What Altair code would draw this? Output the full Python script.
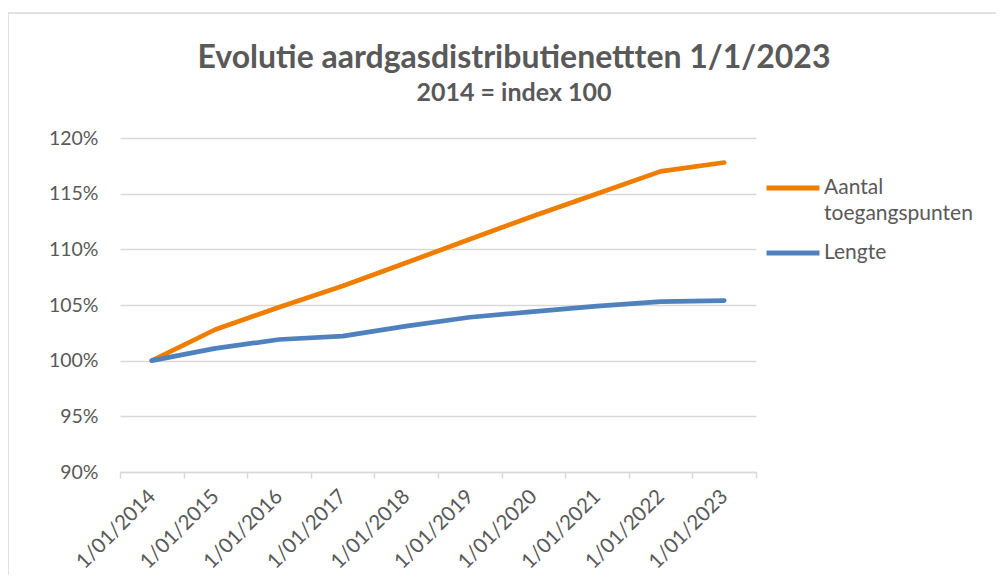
import altair as alt
import pandas as pd

# ---- data ----
dates = ["1/01/2014", "1/01/2015", "1/01/2016", "1/01/2017", "1/01/2018",
         "1/01/2019", "1/01/2020", "1/01/2021", "1/01/2022", "1/01/2023"]
aantal = [100.0, 102.8, 104.8, 106.7, 108.8, 110.9, 113.0, 115.0, 117.0, 117.8]
lengte = [100.0, 101.1, 101.9, 102.2, 103.1, 103.9, 104.4, 104.9, 105.3, 105.4]
series = ["Aantal toegangspunten", "Lengte"]
colors = ["#EF7D00", "#4F81BD"]
y_ticks = [90, 95, 100, 105, 110, 115, 120]

rows = []
for name, vals in zip(series, [aantal, lengte]):
    for d, v in zip(dates, vals):
        rows.append({"datum": d, "reeks": name, "waarde": v / 100.0})
df = pd.DataFrame(rows)

FONT = "Lato"
TXT = "#595959"
GRID = "#D9D9D9"

frame = alt.Chart(pd.DataFrame({"k": [0]})).mark_rect(
    filled=False, color=GRID, strokeWidth=1.5
).encode(
    x=alt.value(-112), x2=alt.value(950),
    y=alt.value(-125), y2=alt.value(600)
)

lines = alt.Chart(df).mark_line(strokeWidth=4.7, strokeCap="round", strokeJoin="round").encode(
    x=alt.X("datum:N", sort=dates, bandPosition=0.5,
            scale=alt.Scale(type="band", paddingInner=0, paddingOuter=0),
            axis=alt.Axis(title=None, tickBand="extent", grid=False,
                          domainColor=GRID, domainWidth=1.5,
                          tickColor=GRID, tickWidth=1.5, tickSize=6,
                          labelAngle=315, labelAlign="right", labelBaseline="middle",
                          labelPadding=15, labelFont=FONT, labelFontSize=20.5,
                          labelColor=TXT)),
    y=alt.Y("waarde:Q",
            scale=alt.Scale(domain=[0.90, 1.20], nice=False, zero=False),
            axis=alt.Axis(title=None, values=[t / 100.0 for t in y_ticks], format=".0%",
                          domain=False, ticks=False, grid=True,
                          gridColor=GRID, gridWidth=1.3,
                          labelPadding=22, labelFont=FONT, labelFontSize=19.5,
                          labelColor=TXT)),
    color=alt.Color("reeks:N", sort=series,
                    scale=alt.Scale(domain=series, range=colors),
                    legend=alt.Legend(title=None, orient="none", legendX=644, legendY=21,
                                      padding=0, symbolType="stroke", symbolSize=2809,
                                      symbolStrokeWidth=5, labelOffset=2,
                                      labelFont=FONT, labelFontSize=21, labelColor=TXT,
                                      labelLimit=400, rowPadding=0,
                                      labelExpr="split(datum.label, ' ')"))
)

chart = alt.layer(frame, lines).properties(
    width=636, height=334,
    autosize=alt.AutoSizeParams(type="none"),
    padding={"left": 112, "top": 130, "right": 240, "bottom": 103},
    title=alt.TitleParams(
        text="Evolutie aardgasdistributienettten 1/1/2023",
        subtitle="2014 = index 100",
        font=FONT, subtitleFont=FONT, fontSize=32, subtitleFontSize=25,
        fontWeight="bold", subtitleFontWeight="bold",
        color=TXT, subtitleColor=TXT, anchor="middle", dx=76, frame="group",
        offset=-95, subtitlePadding=6
    )
).configure(
    background="white",
    view=alt.ViewConfig(stroke=None),
    style={"guide-label": {"lineHeight": 26}}
)

chart.save("out.html", embed_options={"renderer": "svg", "actions": False})
